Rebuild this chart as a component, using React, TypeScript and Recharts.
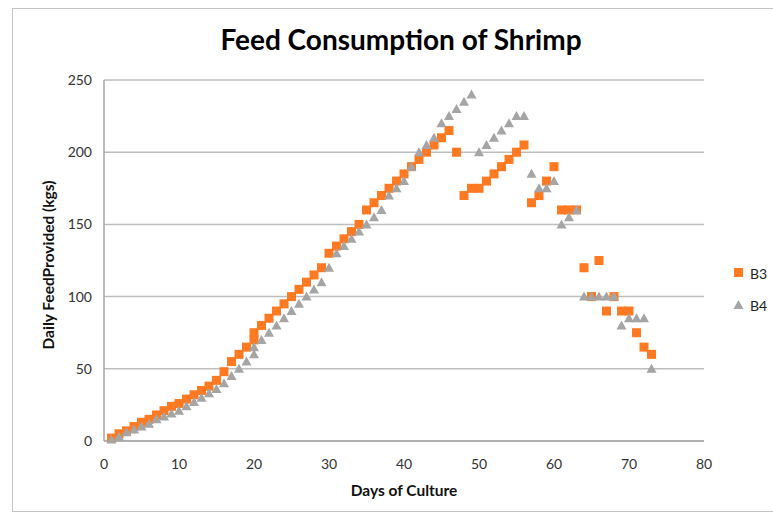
import React from 'react';
import {
  ScatterChart, Scatter, XAxis, YAxis, CartesianGrid,
} from 'recharts';

// day 20 appears twice in the sheet (two rows), kept as is
const DAYS = [
  1, 2, 3, 4, 5, 6, 7, 8, 9, 10, 11, 12, 13, 14, 15, 16, 17, 18, 19, 20, 20,
  21, 22, 23, 24, 25, 26, 27, 28, 29, 30, 31, 32, 33, 34, 35, 36, 37, 38, 39, 40,
  41, 42, 43, 44, 45, 46, 47, 48, 49, 50, 51, 52, 53, 54, 55, 56, 57, 58, 59, 60,
  61, 62, 63, 64, 65, 66, 67, 68, 69, 70, 71, 72, 73,
];

const B3_FEED = [
  2, 5, 7, 10, 13, 15, 18, 21, 24, 26, 29, 32, 35, 38, 42, 48, 55, 60, 65, 70, 75,
  80, 85, 90, 95, 100, 105, 110, 115, 120, 130, 135, 140, 145, 150, 160, 165, 170, 175, 180, 185,
  190, 195, 200, 205, 210, 215, 200, 170, 175, 175, 180, 185, 190, 195, 200, 205, 165, 170, 180, 190,
  160, 160, 160, 120, 100, 125, 90, 100, 90, 90, 75, 65, 60,
];

const B4_FEED = [
  1, 3, 6, 8, 10, 12, 15, 17, 19, 21, 24, 27, 30, 33, 36, 40, 45, 50, 55, 60, 65,
  70, 75, 80, 85, 90, 95, 100, 105, 110, 120, 130, 135, 140, 145, 150, 155, 160, 170, 175, 180,
  190, 200, 205, 210, 220, 225, 230, 235, 240, 200, 205, 210, 215, 220, 225, 225, 185, 175, 175, 180,
  150, 155, 160, 100, 100, 100, 100, 100, 80, 85, 85, 85, 50,
];

const X_TICKS = [0, 10, 20, 30, 40, 50, 60, 70, 80];
const Y_TICKS = [0, 50, 100, 150, 200, 250];

const ORANGE = '#fd7a22';
const GRAY = '#a5a5a5';
const FONT = 'Lato, "Open Sans", sans-serif';

const b3 = DAYS.map((d, i) => ({ day: d, feed: B3_FEED[i] }));
const b4 = DAYS.map((d, i) => ({ day: d, feed: B4_FEED[i] }));

function SquareDot(props: any) {
  const { cx, cy } = props;
  if (cx == null || cy == null) return null;
  return <rect x={cx - 4.5} y={cy - 4.5} width={9} height={9} fill={ORANGE} />;
}

function TriangleDot(props: any) {
  const { cx, cy } = props;
  if (cx == null || cy == null) return null;
  return (
    <polygon
      points={`${cx},${cy - 5} ${cx + 5},${cy + 4} ${cx - 5},${cy + 4}`}
      fill={GRAY}
    />
  );
}

function LegendBox() {
  const row = { display: 'flex', alignItems: 'center', height: 16, fontSize: 14, color: '#222' };
  return (
    <div style={{ position: 'absolute', left: 733, top: 265, fontFamily: FONT }}>
      <div style={row}>
        <svg width={14} height={14}><rect x={1} y={2} width={9} height={9} fill={ORANGE} /></svg>
        <span style={{ marginLeft: 3 }}>B3</span>
      </div>
      <div style={{ ...row, marginTop: 16 }}>
        <svg width={14} height={14}><polygon points="5.5,2 10.5,11 0.5,11" fill={GRAY} /></svg>
        <span style={{ marginLeft: 3 }}>B4</span>
      </div>
    </div>
  );
}

export default function App() {
  return (
    <div style={{ position: 'absolute', left: 0, top: 0, width: 773, height: 515, background: '#fff', overflow: 'hidden', fontFamily: FONT }}>
      <div style={{ position: 'absolute', left: 12, top: 8, width: 800, height: 502, border: '1px solid #c4c4c4' }} />
      <div style={{ position: 'absolute', left: 0, top: 22, width: 802, textAlign: 'center', fontSize: 28, fontWeight: 700, color: '#000' }}>
        Feed Consumption of Shrimp
      </div>
      <div style={{ position: 'absolute', left: 104, top: 481, width: 600, textAlign: 'center', fontSize: 15.5, fontWeight: 700, color: '#111' }}>
        Days of Culture
      </div>
      <div style={{ position: 'absolute', left: 48, top: 266, width: 0, height: 0 }}>
        <div style={{ position: 'absolute', left: -120, top: -10, width: 240, textAlign: 'center', transform: 'rotate(-90deg)', fontSize: 15.5, fontWeight: 700, color: '#111', whiteSpace: 'nowrap' }}>
          Daily FeedProvided (kgs)
        </div>
      </div>
      <div style={{ position: 'absolute', left: 0, top: 0 }}>
        <ScatterChart width={773} height={515} margin={{ top: 80, right: 69, bottom: 44, left: 44 }}>
          <CartesianGrid vertical={false} stroke="#bdbdbd" strokeWidth={1.5} />
          <XAxis
            type="number"
            dataKey="day"
            domain={[0, 80]}
            ticks={X_TICKS}
            height={30}
            axisLine={{ stroke: '#a6a6a6', strokeWidth: 1.5 }}
            tickLine={false}
            tickMargin={12}
            tick={{ fontSize: 14, fill: '#333', fontFamily: FONT }}
          />
          <YAxis
            type="number"
            dataKey="feed"
            domain={[0, 250]}
            ticks={Y_TICKS}
            width={60}
            axisLine={{ stroke: '#a6a6a6', strokeWidth: 1.5 }}
            tickLine={false}
            tickMargin={6}
            tick={{ fontSize: 14, fill: '#333', fontFamily: FONT }}
          />
          <Scatter name="B3" data={b3} shape={SquareDot} isAnimationActive={false} />
          <Scatter name="B4" data={b4} shape={TriangleDot} isAnimationActive={false} />
        </ScatterChart>
      </div>
      <LegendBox />
    </div>
  );
}
